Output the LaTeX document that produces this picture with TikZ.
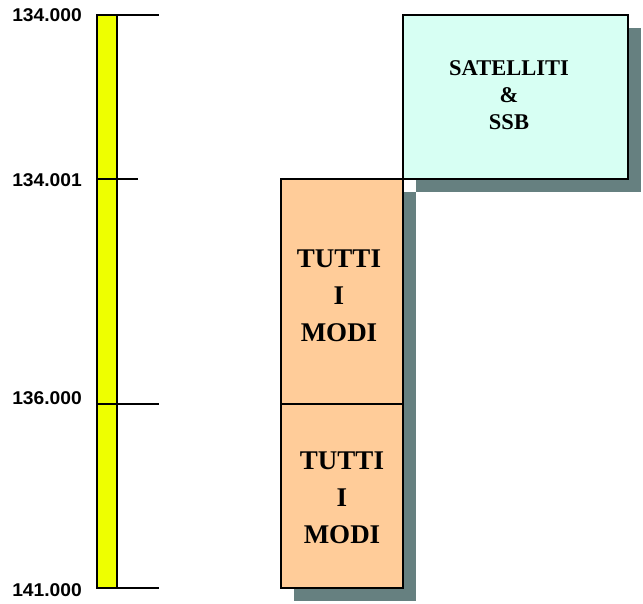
\documentclass[tikz,border=0pt]{standalone}
\usepackage{fontspec}
\setmainfont{Liberation Serif}
\newfontfamily\labfont{Liberation Sans}
\usetikzlibrary{shadows}
\definecolor{barYellow}{RGB}{238,255,0}
\definecolor{boxOrange}{RGB}{255,204,153}
\definecolor{boxCyan}{RGB}{215,255,243}
\definecolor{shadowGray}{RGB}{102,128,128}
\tikzset{
  band/.style={draw=black, line width=1.3pt, rectangle, inner sep=0pt,
    general shadow={shadow xshift=13pt, shadow yshift=-13pt, fill=shadowGray}},
  bigtext/.style={align=center, inner sep=0pt, font=\fontsize{27}{37}\selectfont\bfseries},
  smalltext/.style={align=center, inner sep=0pt, font=\fontsize{22.5}{27}\selectfont\bfseries},
  freqlabel/.style={anchor=east, inner sep=0pt, font=\labfont\fontsize{18.5}{18.5}\selectfont\bfseries},
  tick/.style={line width=1.3pt}
}
\begin{document}
\begin{tikzpicture}[x=1pt, y=-1pt]
\useasboundingbox (0,0) rectangle (643,603);
% frequency bar
\node[draw=black, line width=1.3pt, fill=barYellow, rectangle, inner sep=0pt,
      minimum width=20pt, minimum height=573pt] (bar) at (107,301.5) {};
\coordinate (t1) at (97,15);
\coordinate (t1e) at (159,15);
\coordinate (t2) at (97,179);
\coordinate (t2e) at (138,179);
\coordinate (t3) at (97,404);
\coordinate (t3e) at (159,404);
\coordinate (t4) at (117,588);
\coordinate (t4e) at (159,588);
\draw[tick] (t1) -- (t1e);
\draw[tick] (t2) -- (t2e);
\draw[tick] (t3) -- (t3e);
\draw[tick] (t4) -- (t4e);
% labels
\node[freqlabel] (l1) at (82,15) {\scalebox{1.04}[1]{134.000}};
\node[freqlabel] (l2) at (82,180) {\scalebox{1.04}[1]{134.001}};
\node[freqlabel] (l3) at (82,398) {\scalebox{1.04}[1]{136.000}};
\node[freqlabel] (l4) at (82,590) {\scalebox{1.04}[1]{141.000}};
% boxes
\node[band, fill=boxCyan, minimum width=225pt, minimum height=164pt]
  (sat) at (515.5,97) {};
\node[band, fill=boxOrange, minimum width=122pt, minimum height=225pt]
  (m1) at (342,291.5) {};
\node[band, fill=boxOrange, minimum width=122pt, minimum height=184pt]
  (m2) at (342,496) {};
% texts
\node[smalltext] (satt) at (509,95) {SATELLITI\\\&\\SSB};
\node[bigtext] (m1t) at (339,296) {TUTTI\\I\\MODI};
\node[bigtext] (m2t) at (342,498) {TUTTI\\I\\MODI};
\end{tikzpicture}
\end{document}
